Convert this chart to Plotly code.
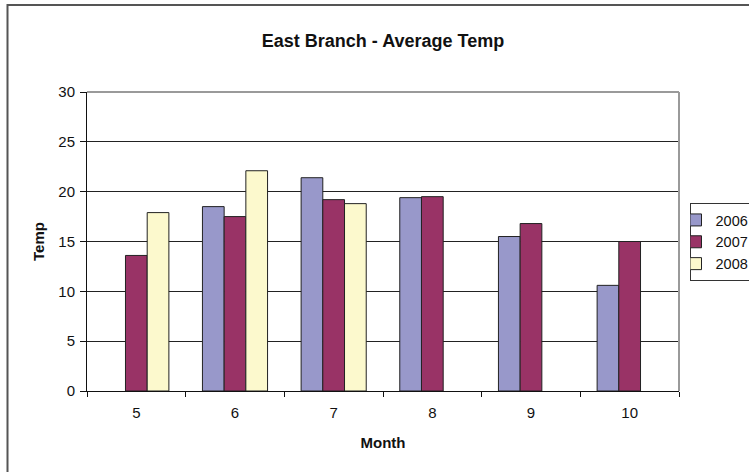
import plotly.graph_objects as go

months = ["5", "6", "7", "8", "9", "10"]
temp_2006 = [None, 18.5, 21.4, 19.4, 15.5, 10.6]
temp_2007 = [13.6, 17.5, 19.2, 19.5, 16.8, 15.0]
temp_2008 = [17.9, 22.1, 18.8, None, None, None]
series_names = ["2006", "2007", "2008"]
y_ticks = [0, 5, 10, 15, 20, 25, 30]

colors = ["#9898CA", "#993366", "#FCF9CD"]
FONT = "Liberation Sans, Arial, sans-serif"

W, H = 749, 472
L, R, T, B = 87, 70, 92, 81
pw, ph = W - L - R, H - T - B

def px_x(x):
    return (x - L) / pw

def px_y(y):
    return (H - B - y) / ph

fig = go.Figure()
for name, vals, col in zip(series_names, [temp_2006, temp_2007, temp_2008], colors):
    fig.add_trace(go.Bar(
        x=months, y=vals, name=name,
        marker=dict(color=col, line=dict(color="#222222", width=1)),
    ))

fig.update_layout(
    width=W, height=H,
    margin=dict(l=L, r=R, t=T, b=B, autoexpand=False),
    paper_bgcolor="white", plot_bgcolor="white",
    font=dict(family=FONT, size=15, color="#111111"),
    barmode="group", bargap=0.34, bargroupgap=0,
    title=dict(text="<b>East Branch - Average Temp</b>", x=px_x(383), xref="paper",
               xanchor="center", y=1 - 41 / H, yanchor="middle",
               font=dict(size=18, family=FONT, color="#111111")),
    showlegend=True,
    legend=dict(x=px_x(689.5), y=px_y(203), xanchor="left", yanchor="top",
                bordercolor="#333333", borderwidth=1, bgcolor="white",
                font=dict(size=14.5, family=FONT, color="#111111"),
                indentation=-15, tracegroupgap=0),
)

fig.update_xaxes(
    type="category", tickson="boundaries", ticks="outside", ticklen=5,
    tickcolor="#111111", showline=True, linecolor="#111111", linewidth=1,
    showgrid=False, ticklabelstandoff=8,
    title=dict(text="<b>Month</b>", font=dict(size=15), standoff=17),
)
fig.update_yaxes(
    range=[0, 30], tickvals=y_ticks, ticks="outside", ticklen=6,
    tickcolor="#111111", showline=True, linecolor="#111111", linewidth=1,
    showgrid=True, gridcolor="#222222", gridwidth=1, zeroline=False,
    ticklabelstandoff=2,
    title=dict(text="<b>Temp</b>", font=dict(size=15), standoff=10),
)

# plot area top and right border (gray)
fig.add_shape(type="line", xref="paper", yref="paper", x0=0, x1=1, y0=1, y1=1,
              line=dict(color="#9A9A9A", width=2), layer="above")
fig.add_shape(type="line", xref="paper", yref="paper", x0=1, x1=1, y0=0, y1=1,
              line=dict(color="#9A9A9A", width=2), layer="above")
# outer chart border (left and top visible)
fig.add_shape(type="rect", xref="paper", yref="paper",
              x0=px_x(7.5), x1=px_x(770), y0=px_y(490), y1=px_y(5),
              line=dict(color="#555555", width=2), layer="above")

fig.write_html("out.html", config={"displayModeBar": False},
               post_script="document.body.style.margin='0';")
